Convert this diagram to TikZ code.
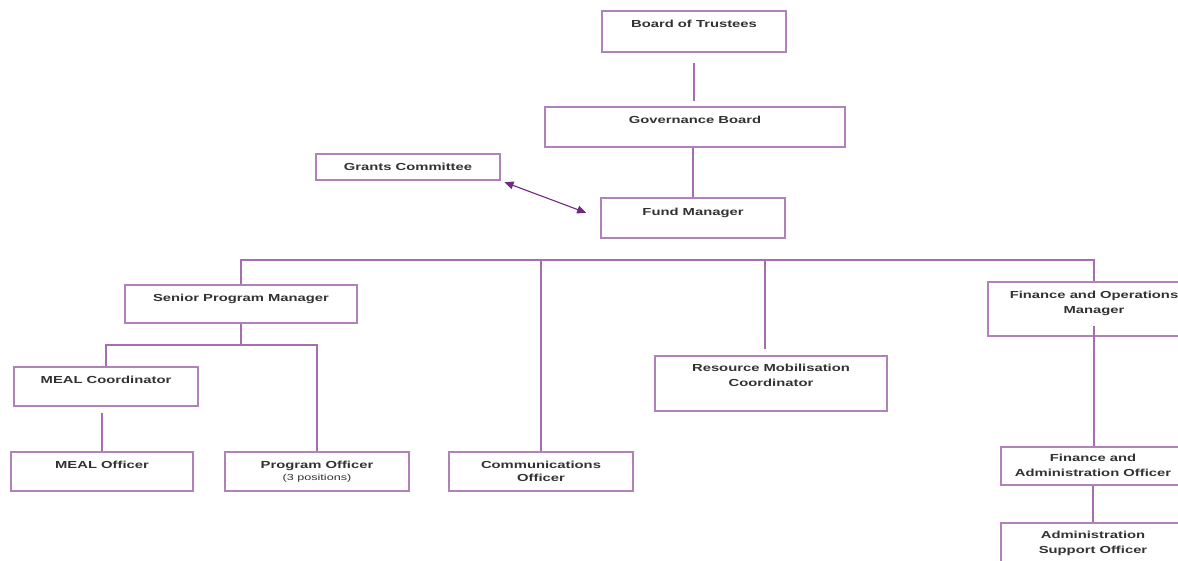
\documentclass[tikz,border=0pt]{standalone}
\usepackage{fontspec}
\setmainfont{Liberation Sans}[FakeStretch=1.45]
\usetikzlibrary{arrows.meta}
\definecolor{boxcol}{RGB}{175,130,185}
\definecolor{linecol}{RGB}{165,110,178}
\definecolor{arrcol}{RGB}{115,40,130}
\definecolor{txtcol}{RGB}{50,50,50}
\tikzset{
  box/.style={draw=boxcol, line width=1.6pt, rectangle, inner sep=0pt},
  lbl/.style={anchor=north, inner sep=0pt, align=center, text=txtcol,
    font=\fontsize{10.2}{14.5}\selectfont\bfseries},
  conn/.style={draw=linecol, line width=1.8pt},
  arr/.style={draw=arrcol, line width=1.1pt,
    {Triangle[length=9pt,width=8pt]}-{Triangle[length=9pt,width=8pt]}, arrcol}
}
\begin{document}
\begin{tikzpicture}[x=1pt,y=-1pt]
\useasboundingbox (0,0) rectangle (1178,560);
\clip (0,0) rectangle (1178,560);
\fill[white] (0,0) rectangle (1178,560);
% boxes
\node[box, minimum width=184, minimum height=41] (bt) at (694,31.5) {};
\node[box, minimum width=300, minimum height=40] (gb) at (695,127) {};
\node[box, minimum width=184, minimum height=40] (fm) at (693,218) {};
\node[box, minimum width=184, minimum height=26] (gc) at (408,167) {};
\node[box, minimum width=232, minimum height=38] (spm) at (241,304) {};
\node[box, minimum width=184, minimum height=39] (mc) at (106,386.5) {};
\node[box, minimum width=182, minimum height=39] (mo) at (102,471.5) {};
\node[box, minimum width=184, minimum height=39] (po) at (317,471.5) {};
\node[box, minimum width=184, minimum height=39] (co) at (541,471.5) {};
\node[box, minimum width=232, minimum height=55] (rm) at (771,383.5) {};
\node[box, minimum width=212, minimum height=54] (fom) at (1094,309) {};
\node[box, minimum width=184, minimum height=38] (fao) at (1093,466) {};
\node[box, minimum width=184, minimum height=40] (aso) at (1093,543) {};
% labels
\node[lbl] (tbt) at ([yshift=-10]bt.north) {Board of Trustees};
\node[lbl] (tgb) at ([yshift=-10]gb.north) {Governance Board};
\node[lbl] (tfm) at ([yshift=-11]fm.north) {Fund Manager};
\node[lbl] (tgc) at ([yshift=-10]gc.north) {Grants Committee};
\node[lbl] (tspm) at ([yshift=-9.5]spm.north) {Senior Program Manager};
\node[lbl] (tmc) at ([yshift=-9.5]mc.north) {MEAL Coordinator};
\node[lbl] (tmo) at ([yshift=-9.5]mo.north) {MEAL Officer};
\node[lbl] (tpo) at ([yshift=-9.5]po.north) {Program Officer\\[-2pt]{\fontsize{8.7}{10}\selectfont\mdseries (3 positions)}};
\node[lbl] (tco) at ([yshift=-10]co.north) {Communications\\[-1.5pt]Officer};
\node[lbl] (trm) at ([yshift=-9]rm.north) {Resource Mobilisation\\Coordinator};
\node[lbl] (tfom) at ([yshift=-10]fom.north) {Finance and Operations\\Manager};
\node[lbl] (tfao) at ([yshift=-8]fao.north) {Finance and\\Administration Officer};
\node[lbl] (taso) at ([yshift=-9]aso.north) {Administration\\Support Officer};
% connectors
\coordinate (bus) at (0,260);
\coordinate (sbus) at (0,345);
\draw[conn, shorten <=10, shorten >=5] (bt.south) -- (bt.south |- gb.north);
\draw[conn] (fm.north |- gb.south) -- (fm.north);
\draw[arr, shorten <=4, shorten >=15] (gc.south east) -- (fm.west);
\draw[conn] (spm.north) -- (spm.north |- bus) -| (fom.north);
\draw[conn] (co.north) -- (co.north |- bus);
\draw[conn, shorten <=6] ([xshift=-6]rm.north) -- ([xshift=-6]rm.north |- bus);
\draw[conn] (spm.south) -- (spm.south |- sbus);
\draw[conn] (mc.north) -- (mc.north |- sbus) -| (po.north);
\draw[conn, shorten <=6] (mo.north |- mc.south) -- (mo.north);
\draw[conn] ([yshift=11]fom.south) -- (fom.south |- fao.north);
\draw[conn] (fao.south) -- (fao.south |- aso.north);
\end{tikzpicture}
\end{document}
